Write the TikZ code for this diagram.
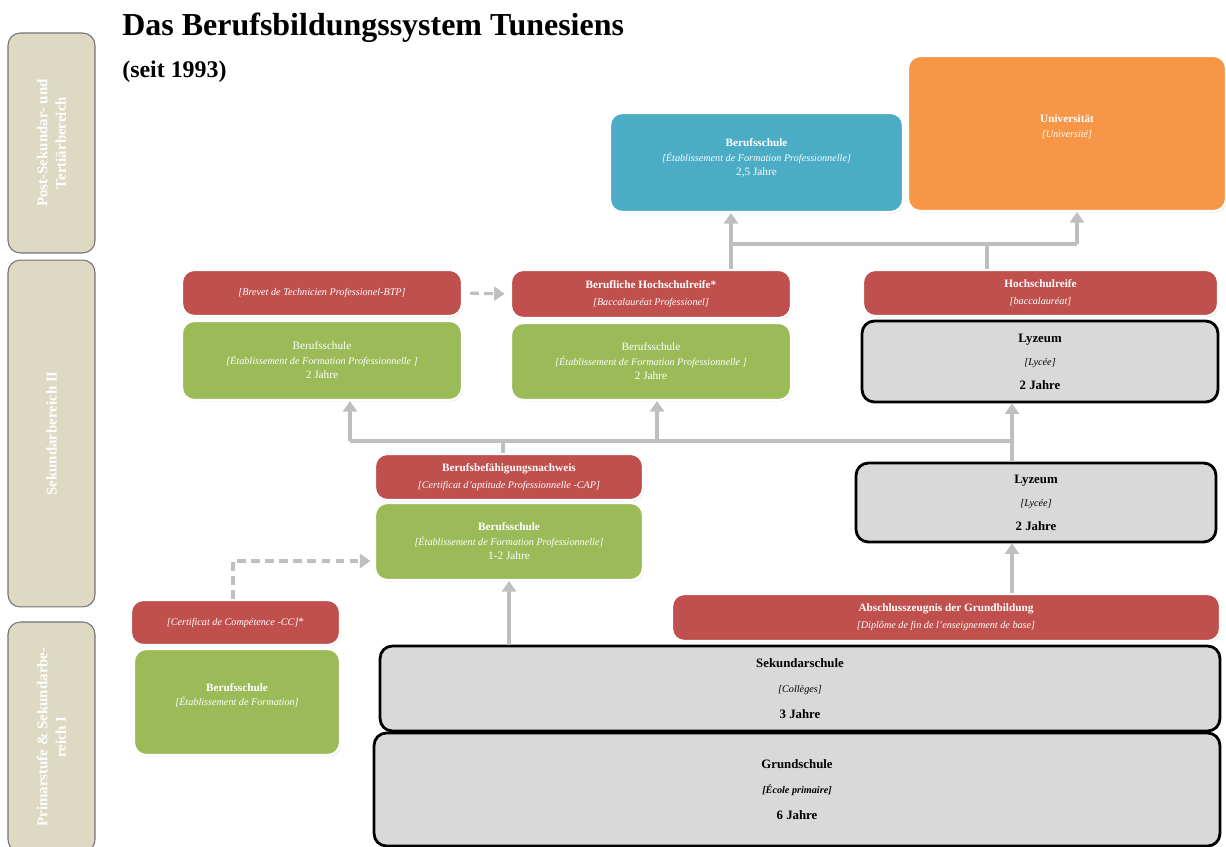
\documentclass[tikz,border=0pt]{standalone}
\usepackage{fontspec}
\setmainfont{Liberation Serif}
\usetikzlibrary{arrows.meta,shadows}

\definecolor{boxred}{HTML}{C0504D}
\definecolor{boxgreen}{HTML}{9BBB59}
\definecolor{boxblue}{HTML}{4BACC6}
\definecolor{boxorange}{HTML}{F79646}
\definecolor{boxgray}{HTML}{D9D9D9}
\definecolor{sidetan}{HTML}{DDD9C3}
\definecolor{linegray}{HTML}{BFBFBF}

\newcommand{\fr}[1]{{\fontsize{5.8}{7.5}\selectfont\itshape [#1]}}

\tikzset{
  box/.style={rounded corners=7pt, align=center, inner sep=1pt, text=white,
    font=\fontsize{6.4}{8.2}\selectfont, draw=white, line width=1.2pt,
    drop shadow={opacity=0.2, shadow xshift=0.6pt, shadow yshift=-0.8pt}},
  redbox/.style={box, fill=boxred},
  greenbox/.style={box, fill=boxgreen},
  bluebox/.style={box, fill=boxblue},
  orangebox/.style={box, fill=boxorange},
  graybox/.style={rounded corners=7pt, align=center, inner sep=1pt, fill=boxgray,
    draw=black, line width=1.6pt, font=\bfseries\fontsize{7.3}{9}\selectfont},
  side/.style={rounded corners=7pt, align=center, fill=sidetan, draw=black!55,
    line width=0.6pt, text=white, rotate=90, font=\bfseries\fontsize{8.5}{10.5}\selectfont},
  arr/.style={draw=linegray, line width=1.8pt, ->},
  link/.style={draw=linegray, line width=1.8pt},
  dasharr/.style={draw=linegray, line width=1.8pt, dash pattern=on 5pt off 3pt, ->}
}

\begin{document}
\begin{tikzpicture}[x=0.02cm, y=-0.02cm, >={Triangle[length=6pt,width=8pt]}]
\useasboundingbox (0,0) rectangle (1226,847);

% title
\node (title) at (122,28) [anchor=west, inner sep=0pt, font=\bfseries\fontsize{18.2}{21}\selectfont] {Das Berufsbildungssystem Tunesiens};
\node (seit) at (122,72) [anchor=west, inner sep=0pt, font=\bfseries\fontsize{13.6}{16}\selectfont] {(seit 1993)};

% levels
\node (post) at (51.5,143) [side, minimum width=4.4cm, minimum height=1.74cm] {Post-Sekundar- und\\Tertiärbereich};
\node (sek2) at (51.5,433.5) [side, minimum width=6.94cm, minimum height=1.74cm] {Sekundarbereich II};
\node (sek1) at (51.5,737) [side, minimum width=4.6cm, minimum height=1.74cm] {Primarstufe \& Sekundarbe-\\reich I};

% top
\node (bsTop) at (756.5,162.5) [bluebox, minimum width=5.86cm, minimum height=1.98cm] {\textbf{Berufsschule}\\\fr{Établissement de Formation Professionnelle}\\2,5 Jahre\\[-2pt]\mbox{}};
\node (uni) at (1067,133.5) [orangebox, minimum width=6.36cm, minimum height=3.1cm] {\textbf{Universität}\\\fr{Université}\\\mbox{}};

% sekundarbereich II
\node (btp) at (322,293) [redbox, minimum width=5.6cm, minimum height=0.92cm] {\fr{Brevet de Technicien Professionel-BTP}};
\node (bhr) at (651,294) [redbox, minimum width=5.6cm, minimum height=0.96cm] {\textbf{Berufliche Hochschulreife*}\\[1.4pt]\fr{Baccalauréat Professionel}};
\node (hr) at (1040.5,293) [redbox, minimum width=7.1cm, minimum height=0.92cm] {\textbf{Hochschulreife}\\[1.4pt]\fr{baccalauréat}};
\node (bs1) at (322,360.5) [greenbox, minimum width=5.6cm, minimum height=1.58cm] {Berufsschule\\\fr{Établissement de Formation Professionnelle }\\2 Jahre};
\node (bs2) at (651,361.5) [greenbox, minimum width=5.6cm, minimum height=1.54cm] {Berufsschule\\\fr{Établissement de Formation Professionnelle }\\2 Jahre};
\node (lyz1) at (1040,361.5) [graybox, minimum width=7.12cm, minimum height=1.62cm] {Lyzeum\\[4.4pt]{\mdseries\fr{Lycée}}\\[4.4pt]2 Jahre};

\node (cap) at (509,477) [redbox, minimum width=5.36cm, minimum height=0.92cm] {\textbf{Berufsbefähigungsnachweis}\\[1.4pt]\fr{Certificat d’aptitude Professionnelle -CAP}};
\node (bs3) at (509,541.5) [greenbox, minimum width=5.36cm, minimum height=1.54cm] {\textbf{Berufsschule}\\\fr{Établissement de Formation Professionnelle}\\1-2 Jahre};
\node (lyz2) at (1036,502.5) [graybox, minimum width=7.2cm, minimum height=1.58cm] {Lyzeum\\[4.4pt]{\mdseries\fr{Lycée}}\\[4.4pt]2 Jahre};

% primarstufe & sekundarbereich I
\node (cc) at (235.5,622.5) [redbox, minimum width=4.18cm, minimum height=0.9cm] {\fr{Certificat de Compétence -CC}*};
\node (bs4) at (237,702) [greenbox, minimum width=4.12cm, minimum height=2.12cm] {\textbf{Berufsschule}\\\fr{Établissement de Formation}\\\mbox{}};
\node (abs) at (946,617.5) [redbox, minimum width=10.96cm, minimum height=0.94cm] {\textbf{Abschlusszeugnis der Grundbildung}\\[1.4pt]\fr{Diplôme de fin de l’enseignement de base}};
\node (sek) at (800,688.5) [graybox, minimum width=16.8cm, minimum height=1.7cm] {Sekundarschule\\[5.6pt]{\mdseries\fr{Collèges}}\\[5.6pt]3 Jahre};
\node (grund) at (797,789.5) [graybox, minimum width=16.92cm, minimum height=2.26cm] {Grundschule\\[5.4pt]\fr{École primaire}\\[5.4pt]6 Jahre};

% connectors
\coordinate (jl) at (350,441);
\coordinate (jm) at (657,441);
\coordinate (jr) at (1012,441);
\coordinate (tl) at (731,244);
\coordinate (tm) at (987,244);
\coordinate (tr) at (1077,244);
\coordinate (cd) at (233,561);

\draw [arr] (sek.north -| bs3.south) -- (bs3.south);
\draw [arr] (abs.north -| jr) -- (lyz2.south -| jr);
\draw [arr] (lyz2.north -| jr) -- (lyz1.south -| jr);
\draw [link] (cap.north -| 503,0) -- (jr -| 503,0);
\draw [link] (jl) -- (jr);
\draw [arr] (jl) -- (jl |- bs1.south);
\draw [arr] (jm) -- (jm |- bs2.south);

\draw [link] (bhr.north -| tl) -- (tl) -- (tr);
\draw [link] (hr.north -| tm) -- (tm);
\draw [arr] (tl) -- (tl |- bsTop.south);
\draw [arr] (tr) -- (tr |- uni.south);

\draw [dasharr, shorten <=4pt, shorten >=3pt] (btp.east) -- (bhr.west);
\draw [dasharr, shorten >=2pt] (cc.north -| cd) -- (cd) -- (cd -| bs3.west);
\end{tikzpicture}
\end{document}
